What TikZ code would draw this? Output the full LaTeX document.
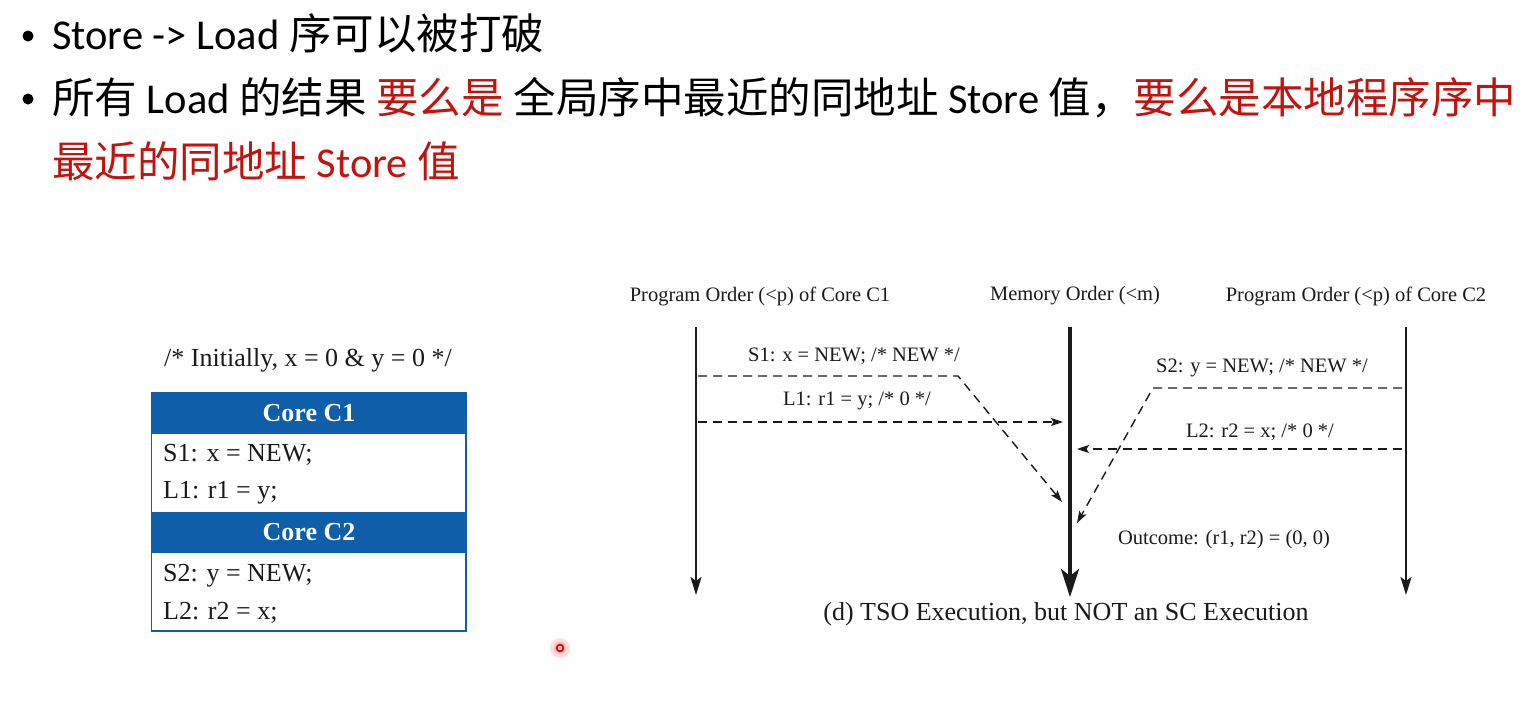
\documentclass[tikz,border=0pt]{standalone}
\usepackage{fontspec}
\setmainfont{Liberation Serif}
\newfontfamily\cjk{Noto Sans CJK SC}
\newfontfamily\lat{Carlito}
\usetikzlibrary{arrows.meta}
\definecolor{hdrblue}{RGB}{14,94,170}
\definecolor{keyred}{RGB}{192,20,16}
\definecolor{ink}{RGB}{26,26,26}

\begin{document}
\begin{tikzpicture}[x=1pt,y=-1pt,
  slide/.style={anchor=base west, inner sep=0pt, font=\cjk\fontsize{42.5}{50}\selectfont},
  dot/.style={circle, fill=black, inner sep=0pt, minimum size=11pt},
  note/.style={inner sep=0pt, font=\fontsize{26}{30}\selectfont, text=ink},
  hdr/.style={fill=hdrblue, text=white, minimum width=314pt, minimum height=41pt,
    inner sep=0pt, font=\bfseries\fontsize{26}{30}\selectfont},
  code/.style={anchor=west, inner sep=0pt, font=\fontsize{26}{30}\selectfont, text=ink},
  title/.style={inner sep=0pt, font=\fontsize{20.5}{24}\selectfont, text=ink},
  lab/.style={inner sep=0pt, font=\fontsize{20.5}{24}\selectfont, text=ink},
  timeline/.style={draw=ink, line width=2.2pt, -{Stealth[length=18pt,width=11pt,inset=4pt]}},
  memline/.style={draw=ink, line width=3.6pt, -{Stealth[length=28pt,width=18pt,inset=7pt]}},
  msg/.style={draw=ink, line width=1.4pt, dash pattern=on 9pt off 6pt,
    -{Stealth[length=12pt,width=8pt,inset=2.5pt]}},
]
\useasboundingbox (0,0) rectangle (1537,712);

% ---- bullet text ----
\node[dot] (d1) at (28,36) {};
\node[slide] (line1) at (52,49) {{\lat Store -> Load }序可以被打破};
\node[dot] (d2) at (28,99) {};
\node[slide] (line2) at (52,113) {所有{\lat{} Load }的结果{\lat{} }\textcolor{keyred}{要么是}{\lat{} }全局序中最近的同地址{\lat{} Store }值，\textcolor{keyred}{要么是本地程序序中}};
\node[slide, text=keyred] (line3) at (52,177) {最近的同地址{\lat{} Store }值};

% ---- program table ----
\node[note] (init) at (308,360) {/* Initially, x = 0 \& y = 0 */};
\node[hdr] (h1) at (309,413.5) {Core C1};
\node[hdr] (h2) at (309,532.5) {Core C2};
\draw[hdrblue, line width=1.2pt] (h1.north west) rectangle (466,631);
\draw[hdrblue, line width=2pt] (152,631) -- (466,631);
\node[code] (s1) at (163,455) {S1: x = NEW;};
\node[code] (l1) at (163,493) {L1: r1 = y;};
\node[code] (s2) at (163,576) {S2: y = NEW;};
\node[code] (l2) at (163,613) {L2: r2 = x;};

% ---- order diagram ----
\node[title] (t1) at (760,296) {Program Order (<p) of Core C1};
\node[title] (t2) at (1075,296) {Memory Order (<m)};
\node[title] (t3) at (1356,296) {Program Order (<p) of Core C2};

\coordinate (c1top) at (696,327);  \coordinate (c1bot) at (696,595);
\coordinate (mtop)  at (1070,327); \coordinate (mbot)  at (1070,597);
\coordinate (c2top) at (1406,327); \coordinate (c2bot) at (1406,595);
\draw[timeline] (c1top) -- (c1bot);
\draw[memline]  (mtop) -- (mbot);
\draw[timeline] (c2top) -- (c2bot);

\coordinate (s1a) at (698,376);  \coordinate (s1b) at (958,376);  \coordinate (s1c) at (1062,502);
\coordinate (l1a) at (698,422);  \coordinate (l1b) at (1063,422);
\coordinate (s2a) at (1402,388); \coordinate (s2b) at (1153,388); \coordinate (s2c) at (1077,523);
\coordinate (l2a) at (1402,449); \coordinate (l2b) at (1077,449);

\draw[msg] (s1a) -- (s1b) -- (s1c);
\draw[msg] (l1a) -- (l1b);
\draw[msg] (s2a) -- (s2b) -- (s2c);
\draw[msg] (l2a) -- (l2b);

\node[lab] (s1lab) at (854,356) {S1: x = NEW; /* NEW */};
\node[lab] (l1lab) at (857,401) {L1: r1 = y; /* 0 */};
\node[lab] (s2lab) at (1262,368) {S2: y = NEW; /* NEW */};
\node[lab] (l2lab) at (1260,432) {L2: r2 = x; /* 0 */};
\node[lab] (outc) at (1224,540) {Outcome: (r1, r2) = (0, 0)};
\node[inner sep=0pt, font=\fontsize{26}{30}\selectfont, text=ink] (cap) at (1066,614)
  {(d) TSO Execution, but NOT an SC Execution};

% ---- pointer mark ----
\fill[red, opacity=0.12] (560,648) circle (10pt);
\fill[red, opacity=0.15] (560,648) circle (6.5pt);
\draw[red!85!black, line width=1.6pt] (560,648) circle (3.4pt);
\end{tikzpicture}
\end{document}
